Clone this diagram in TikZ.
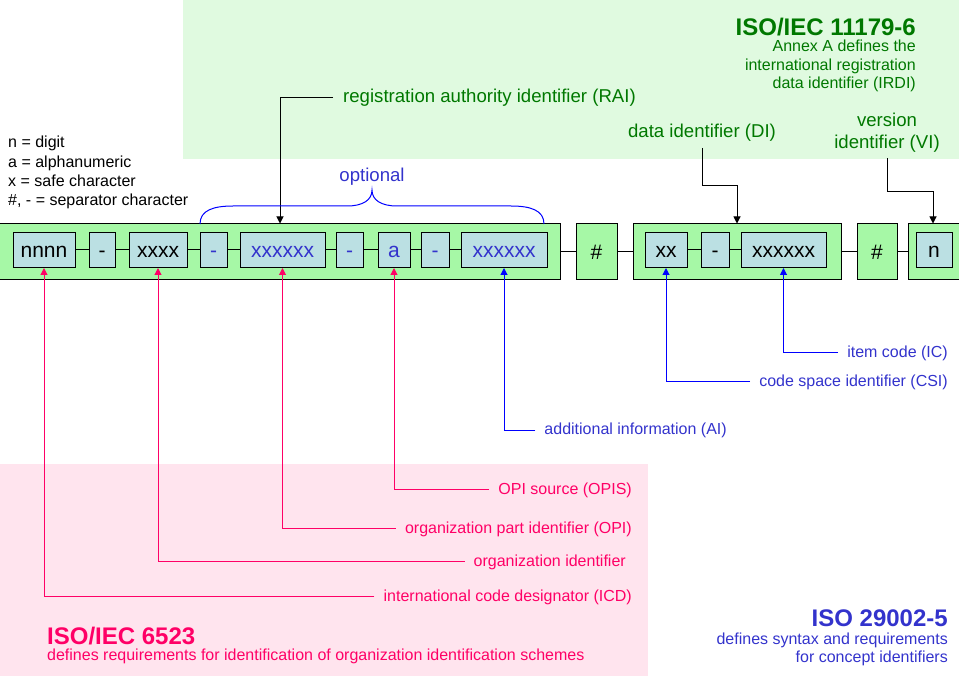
\documentclass[tikz,border=0pt]{standalone}
\usepackage{fontspec}
\setmainfont{Liberation Sans}
\usetikzlibrary{arrows.meta}
\definecolor{bggreen}{RGB}{224,250,224}
\definecolor{bgpink}{RGB}{255,228,238}
\definecolor{bargreen}{RGB}{166,248,166}
\definecolor{boxblue}{RGB}{187,224,227}
\definecolor{dgreen}{RGB}{0,120,0}
\definecolor{pinkc}{RGB}{255,0,102}
\definecolor{bluet}{RGB}{51,51,204}
\definecolor{bluel}{RGB}{0,0,255}
\begin{document}
\begin{tikzpicture}[x=1pt,y=-1pt,
  obox/.style={draw=black, line width=1pt, fill=bargreen, minimum height=56, inner sep=0,
     text height=16pt, text depth=0pt, font=\fontsize{21}{24}\selectfont},
  ibox/.style={draw=black, line width=1pt, fill=boxblue, minimum height=35, inner sep=0,
     text height=16pt, text depth=0pt, font=\fontsize{21}{24}\selectfont},
  conn/.style={draw=black, line width=1pt},
  lbl/.style={inner sep=0, font=\fontsize{16}{19}\selectfont},
  clbl/.style={lbl, text height=11pt, text depth=1pt},
  big/.style={inner sep=0, font=\fontsize{18.6}{22}\selectfont},
  ttl/.style={inner sep=0, font=\bfseries\fontsize{24}{28}\selectfont},
  tip/.style={-{Triangle[width=7pt,length=7pt]}},
  parr/.style={draw=pinkc, line width=1pt, tip, shorten <=9pt},
  barr/.style={draw=bluel, line width=1pt, tip, shorten <=9pt},
  karr/.style={draw=black, line width=1pt, tip}
]
\useasboundingbox (0,0) rectangle (959,676);
\clip (0,0) rectangle (959,676);
% backgrounds
\fill[bggreen] (183,0) rectangle (959,159);
\fill[bgpink] (0,464) rectangle (648,676);

% outer boxes
\node[obox, minimum width=561] (bar) at (279.5,252) {};
\node[obox, minimum width=41] (h1) at (596.5,252) {\#};
\node[obox, minimum width=208] (dibox) at (737,252) {};
\node[obox, minimum width=40] (h2) at (877,252) {\#};
\node[obox, minimum width=62] (vibox) at (939,252) {};

% inner boxes
\node[ibox, minimum width=62] (nnnn) at (44,250) {nnnn};
\node[ibox, minimum width=26] (d1) at (102,250) {-};
\node[ibox, minimum width=58] (xxxx) at (158,250) {xxxx};
\node[ibox, minimum width=27, text=bluet] (d2) at (213.5,250) {-};
\node[ibox, minimum width=85, text=bluet] (xa) at (282.5,250) {xxxxxx};
\node[ibox, minimum width=27, text=bluet] (d3) at (349.5,250) {-};
\node[ibox, minimum width=32, text=bluet] (aa) at (394,250) {a};
\node[ibox, minimum width=28, text=bluet] (d4) at (435,250) {-};
\node[ibox, minimum width=86, text=bluet] (xb) at (504,250) {xxxxxx};
\node[ibox, minimum width=42] (xx) at (666,250) {xx};
\node[ibox, minimum width=28] (d5) at (715,250) {-};
\node[ibox, minimum width=85] (xc) at (783.5,250) {xxxxxx};
\node[ibox, minimum width=36] (nn) at (934,250) {n};

% joining lines
\draw[conn] (nnnn) -- (d1);
\draw[conn] (d1) -- (xxxx);
\draw[conn] (xxxx) -- (d2);
\draw[conn] (d2) -- (xa);
\draw[conn] (xa) -- (d3);
\draw[conn] (d3) -- (aa);
\draw[conn] (aa) -- (d4);
\draw[conn] (d4) -- (xb);
\draw[conn] (xx) -- (d5);
\draw[conn] (d5) -- (xc);
\draw[conn] (bar) -- (h1);
\draw[conn] (h1) -- (dibox);
\draw[conn] (dibox) -- (h2);
\draw[conn] (h2) -- (vibox);

% titles
\node[ttl, text=dgreen, anchor=base east] (t1) at (916,36) {ISO/IEC 11179-6};
\node[lbl, text=dgreen, anchor=base east] (t1a) at (916,52) {Annex A defines the};
\node[lbl, text=dgreen, anchor=base east] (t1b) at (916,71) {international registration};
\node[lbl, text=dgreen, anchor=base east] (t1c) at (916,89) {data identifier (IRDI)};

\node[ttl, text=pinkc, anchor=base west] (t2) at (47,644) {ISO/IEC 6523};
\node[lbl, text=pinkc, anchor=base west] (t2a) at (47,660) {defines requirements for identification of organization identification schemes};

\node[ttl, text=bluet, anchor=base east] (t3) at (948,626) {ISO 29002-5};
\node[lbl, text=bluet, anchor=base east] (t3a) at (948,644) {defines syntax and requirements};
\node[lbl, text=bluet, anchor=base east] (t3b) at (948,662) {for concept identifiers};

% legend
\node[lbl, anchor=base west] (lg1) at (8,148) {n = digit};
\node[lbl, anchor=base west] (lg2) at (8,167.3) {a = alphanumeric};
\node[lbl, anchor=base west] (lg3) at (8,186.6) {x = safe character};
\node[lbl, anchor=base west] (lg4) at (8,206) {\#, - = separator character};

% top labels
\node[big, text=dgreen, anchor=west] (rai) at (343,97.5) {registration authority identifier (RAI)};
\node[big, text=dgreen] (dil) at (702,132.5) {data identifier (DI)};
\node[big, text=dgreen, align=center] (vil) at (887,132.5) {version\\identifier (VI)};
\node[big, text=bluet] (opt) at (372,177) {optional};

\draw[karr, shorten <=10pt] (rai.west) -| ([xshift=-2.5pt]xa.north |- bar.north);
\draw[karr] (dil.south) ++(0,6.5) -- ++(0,38) -| (dibox.north);
\draw[karr] (vil.south) ++(0,6) -- ++(0,33) -| ([xshift=-1pt]nn.north |- vibox.north);

% brace
\draw[bluel, line width=1pt] (200,224) .. controls (200,210) and (214,206) .. (233,206)
  -- (347,206) .. controls (363,206) and (372,200) .. (372,190)
  .. controls (372,200) and (381,206) .. (397,206) -- (511,206)
  .. controls (530,206) and (544,210) .. (544,224);

% bottom labels
\node[clbl, text=pinkc, anchor=east] (icd) at (632,596) {international code designator (ICD)};
\node[clbl, text=pinkc, anchor=east] (orgid) at (626,561) {organization identifier};
\node[clbl, text=pinkc, anchor=east] (opi) at (632,528) {organization part identifier (OPI)};
\node[clbl, text=pinkc, anchor=east] (opis) at (632,489) {OPI source (OPIS)};
\node[clbl, text=bluet, anchor=east] (ai) at (727,430) {additional information (AI)};
\node[clbl, text=bluet, anchor=east] (csi) at (948,382) {code space identifier (CSI)};
\node[clbl, text=bluet, anchor=east] (ic) at (948,353) {item code (IC)};

\draw[parr] (icd.west) -| (nnnn.south);
\draw[parr] (orgid.west) -| (xxxx.south);
\draw[parr] (opi.west) -| (xa.south);
\draw[parr] (opis.west) -| (aa.south);
\draw[barr] (ai.west) -| (xb.south);
\draw[barr] (csi.west) -| (xx.south);
\draw[barr] (ic.west) -| (xc.south);
\end{tikzpicture}
\end{document}
